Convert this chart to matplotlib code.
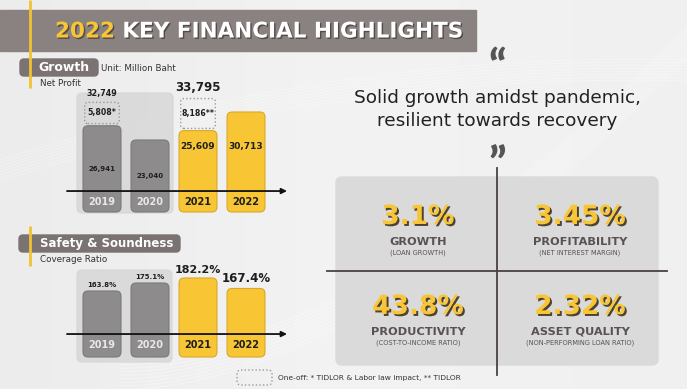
import numpy as np
import matplotlib.pyplot as plt
from matplotlib.patches import FancyBboxPatch, Rectangle
from matplotlib.colors import LinearSegmentedColormap
import matplotlib.patheffects as pe

# data
years = ['2019', '2020', '2021', '2022']
profit_core = [26941, 23040, 25609, 30713]
profit_oneoff = [5808, 0, 8186, 0]
profit_core_labels = ['26,941', '23,040', '25,609', '30,713']
profit_oneoff_labels = ['5,808*', '', '8,186**', '']
profit_total_labels = ['32,749', '', '33,795', '']
coverage = [163.8, 175.1, 182.2, 167.4]
coverage_labels = ['163.8%', '175.1%', '182.2%', '167.4%']
is_current = [False, False, True, True]

kpi_values = ['3.1%', '3.45%', '43.8%', '2.32%']
kpi_titles = ['GROWTH', 'PROFITABILITY', 'PRODUCTIVITY', 'ASSET QUALITY']
kpi_subtitles = ['(LOAN GROWTH)', '(NET INTEREST MARGIN)',
                 '(COST-TO-INCOME RATIO)', '(NON-PERFORMING LOAN RATIO)']

W, H = 687, 389
YELLOW = '#f8c634'
YELLOW_EDGE = '#d9a82a'
GRAY_BAR = '#8d8b8b'
GRAY_EDGE = '#7a7878'
BANNER = '#8a8280'
DARK = '#1e1e1e'
KPI_TXT = '#5a5252'

plt.rcParams['font.family'] = ['DejaVu Sans']

fig = plt.figure(figsize=(W / 100, H / 100), dpi=100)
bg = fig.add_axes([0, 0, 1, 1])
bg.set_xlim(0, W)
bg.set_ylim(H, 0)
bg.axis('off')


def px_axes(x0, y0, x1, y1):
    ax = fig.add_axes([x0 / W, 1 - y1 / H, (x1 - x0) / W, (y1 - y0) / H])
    ax.set_facecolor('none')
    ax.axis('off')
    return ax


# background: soft gradient with a few faint swooshes
grad = np.linspace(0, 1, 256).reshape(1, -1)
grad = np.vstack([grad] * 4)
bg_cmap = LinearSegmentedColormap.from_list('bg', ['#ececec', '#f3f3f3', '#f0f0f0'])
bg.imshow(grad, extent=[0, W, H, 0], cmap=bg_cmap, aspect='auto', zorder=0)
t = np.linspace(0, 1, 200)
for k in range(10):
    xs = 120 + 567 * t
    ys = 389 - 330 * t ** 1.6 - k * 3.5 + 40 * np.sin(np.pi * t) * 0.3
    bg.plot(xs, ys, color='white', lw=0.8, alpha=0.35, zorder=0.5)
for k in range(8):
    xs = 687 * t
    ys = 40 + 120 * (1 - t) ** 2 + k * 3 + 20 * t
    bg.plot(xs, ys, color='white', lw=0.7, alpha=0.3, zorder=0.5)

# title banner
bg.add_patch(Rectangle((0, 10), 476, 41, color=BANNER, zorder=1))
shadow = [pe.withSimplePatchShadow(offset=(1, -1), shadow_rgbFace='#3a3434', alpha=0.7)]
t1 = bg.text(55, 31.5, '2022', color=YELLOW, fontsize=15.5, fontweight='bold',
             va='center', ha='left', zorder=3, path_effects=shadow)
bg.annotate(' KEY FINANCIAL HIGHLIGHTS', xy=(1, 0.5), xycoords=t1, va='center', ha='left',
            color='white', fontsize=15.5, fontweight='bold', zorder=3, path_effects=shadow)

# section headers
bg.add_patch(FancyBboxPatch((20, 59), 78, 17, boxstyle='round,pad=0,rounding_size=4',
                            color='#7b7372', zorder=2))
bg.text(64, 67.5, 'Growth', color='white', fontsize=9, fontweight='bold',
        ha='center', va='center', zorder=3)
bg.text(101, 68, 'Unit: Million Baht', color='#333333', fontsize=6.3, va='center', zorder=3)
bg.text(40, 83, 'Net Profit', color='#333333', fontsize=6.3, va='center', zorder=3)

bg.add_patch(FancyBboxPatch((19, 235), 161, 17, boxstyle='round,pad=0,rounding_size=4',
                            color='#7b7372', zorder=2))
bg.text(40, 243.5, 'Safety & Soundness', color='white', fontsize=8.5, fontweight='bold',
        ha='left', va='center', zorder=3)
bg.text(40, 259, 'Coverage Ratio', color='#333333', fontsize=6.3, va='center', zorder=3)

bg.plot([30, 30], [0, 88], color='#f2c230', lw=2, zorder=4, solid_capstyle='butt')
bg.plot([30, 30], [226, 266], color='#f2c230', lw=2, zorder=4, solid_capstyle='butt')

# pale panels behind the previous years
bg.add_patch(FancyBboxPatch((77, 93), 96, 120, boxstyle='round,pad=0,rounding_size=5',
                            color='#d6d6d6', alpha=0.8, zorder=1))
bg.add_patch(FancyBboxPatch((77, 270), 95, 92, boxstyle='round,pad=0,rounding_size=5',
                            color='#d6d6d6', alpha=0.8, zorder=1))


def round_bars(ax, bars, radius_px, **kw):
    """swap plain bar rectangles for rounded ones"""
    fig.canvas.draw()
    p0 = ax.transData.transform((0, 0))
    p1 = ax.transData.transform((1, 1))
    ppx, ppy = abs(p1[0] - p0[0]), abs(p1[1] - p0[1])
    rx = radius_px / ppx
    aspect = ppx / ppy
    out = []
    for b in bars:
        if b.get_height() <= 0:
            b.remove()
            continue
        box = FancyBboxPatch((b.get_x(), b.get_y()), b.get_width(), b.get_height(),
                             boxstyle=f'round,pad=0,rounding_size={rx}',
                             mutation_aspect=aspect, clip_on=False, **kw)
        ax.add_patch(box)
        b.remove()
        out.append(box)
    return out


x = np.arange(len(years))
bar_colors = [YELLOW if c else GRAY_BAR for c in is_current]
edge_colors = [YELLOW_EDGE if c else GRAY_EDGE for c in is_current]
year_colors = [DARK if c else '#e8e8e8' for c in is_current]

# ---- net profit chart
ax1 = px_axes(67, 88, 287, 212)
base1 = 3313
ax1.set_xlim(-0.729, 3.854)
ax1.set_ylim(base1, base1 + 124 * 274)
core = np.array(profit_core)
bars = ax1.bar(x, core - base1, bottom=base1, width=0.79)
for b, fc, ec in zip(round_bars(ax1, bars, 5), bar_colors, edge_colors):
    b.set_facecolor(fc)
    b.set_edgecolor(ec)
    b.set_linewidth(0.8)
dotted = ax1.bar(x, profit_oneoff, bottom=core + 600, width=0.72)
for b in round_bars(ax1, dotted, 3):
    b.set_facecolor('none')
    b.set_edgecolor('#9a9a9a')
    b.set_linestyle((0, (1, 1.6)))
    b.set_linewidth(1.0)

for i in x:
    c = is_current[i]
    if profit_oneoff[i]:
        ax1.text(i, core[i] + 600 + profit_oneoff[i] / 2, profit_oneoff_labels[i],
                 ha='center', va='center', fontsize=5.6, fontweight='bold', color=DARK)
        ax1.annotate(profit_total_labels[i], xy=(i, core[i] + 600 + profit_oneoff[i]),
                     xytext=(0, 3), textcoords='offset points', ha='center', va='bottom',
                     fontsize=8.5 if c else 5.8, fontweight='bold', color=DARK)
    ly = base1 + 0.532 * 124 * 274 if c else base1 + (core[i] - base1) / 2
    ax1.text(i, ly, profit_core_labels[i], ha='center', va='center',
             fontsize=6.5 if c else 5, fontweight='bold', color=DARK)
    ax1.text(i, 0.081, years[i], transform=ax1.get_xaxis_transform(), ha='center',
             va='center', fontsize=7, fontweight='bold', color=year_colors[i])
ax1.annotate('', xy=(1, 0.169), xytext=(0, 0.169), xycoords='axes fraction',
             arrowprops=dict(arrowstyle='-|>', color='#111111', lw=1.3, mutation_scale=8,
                             shrinkA=0, shrinkB=0))

# ---- coverage ratio chart
ax2 = px_axes(67, 270, 287, 357)
base2 = 70.4
ax2.set_xlim(-0.729, 3.854)
ax2.set_ylim(base2, base2 + 87 * 1.415)
cov = np.array(coverage)
bars = ax2.bar(x, cov - base2, bottom=base2, width=0.79)
for b, fc, ec in zip(round_bars(ax2, bars, 5), bar_colors, edge_colors):
    b.set_facecolor(fc)
    b.set_edgecolor(ec)
    b.set_linewidth(0.8)
for i in x:
    c = is_current[i]
    ax2.annotate(coverage_labels[i], xy=(i, cov[i]), xytext=(0, 2.5), textcoords='offset points',
                 ha='center', va='bottom', fontsize=(8.5 if i == 3 else 8) if c else 5,
                 fontweight='bold', color=DARK)
    ax2.text(i, 0.138, years[i], transform=ax2.get_xaxis_transform(), ha='center',
             va='center', fontsize=7, fontweight='bold', color=year_colors[i])
ax2.annotate('', xy=(1, 0.264), xytext=(0, 0.264), xycoords='axes fraction',
             arrowprops=dict(arrowstyle='-|>', color='#111111', lw=1.3, mutation_scale=8,
                             shrinkA=0, shrinkB=0))

# ---- quote
bg.text(497, 68, '\u201c', ha='center', va='center', fontsize=32, fontweight='black',
        family='Lato', color='#555555', zorder=3)
bg.text(497, 166, '\u201d', ha='center', va='center', fontsize=32, fontweight='black',
        family='Lato', color='#555555', zorder=3)
bg.text(497, 98, 'Solid growth amidst pandemic,', ha='center', va='center', fontsize=13.3,
        color='#222222', zorder=3)
bg.text(497, 121, 'resilient towards recovery', ha='center', va='center', fontsize=13.3,
        color='#222222', zorder=3)

# ---- KPI panel
bg.add_patch(FancyBboxPatch((336, 177), 322, 188, boxstyle='round,pad=0,rounding_size=6',
                            color='#dadada', zorder=1))
bg.plot([497, 497], [168, 375], color='#4a4242', lw=1.3, zorder=2)
bg.plot([327, 667], [271, 271], color='#4a4242', lw=1.3, zorder=2)
kpi_shadow = [pe.withSimplePatchShadow(offset=(1.4, -1.4), shadow_rgbFace='#4f4230', alpha=1)]
centers = [(418, 217), (580, 217), (418, 307), (580, 307)]
for (cx, cy), v, ttl, sub in zip(centers, kpi_values, kpi_titles, kpi_subtitles):
    bg.text(cx, cy, v, ha='center', va='center', fontsize=19, fontweight='bold',
            color=YELLOW, zorder=3, path_effects=kpi_shadow)
    bg.text(cx, cy + 25, ttl, ha='center', va='center', fontsize=8.2, fontweight='bold',
            color=KPI_TXT, zorder=3)
    bg.text(cx, cy + 36, sub, ha='center', va='center', fontsize=4.8, color=KPI_TXT, zorder=3)

# ---- footnote
bg.add_patch(FancyBboxPatch((237, 370), 35, 15, boxstyle='round,pad=0,rounding_size=4',
                            facecolor='none', edgecolor='#9a9a9a', lw=1.0,
                            linestyle=(0, (1, 1.6)), zorder=2))
bg.text(278, 378, 'One-off: * TIDLOR & Labor law impact, ** TIDLOR', fontsize=5.4,
        color='#333333', va='center', ha='left', zorder=3)

fig.savefig('out.png', dpi=100)
